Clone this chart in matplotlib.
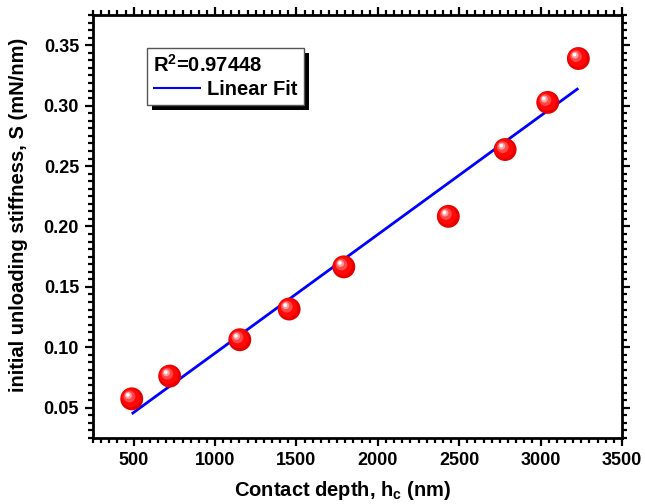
import numpy as np
import matplotlib
matplotlib.use("Agg")
import matplotlib.pyplot as plt
from matplotlib.ticker import MultipleLocator, AutoMinorLocator
from matplotlib.transforms import offset_copy
from matplotlib.patches import Rectangle

# ---- data ----
contact_depth = [488, 721, 1152, 1455, 1791, 2433, 2782, 3044, 3232]
stiffness = [0.0574, 0.0762, 0.1063, 0.1317, 0.1666, 0.2084, 0.2637, 0.3027, 0.3390]
r2_text = "R$^\\mathregular{2}$=0.97448"
fit_label = "Linear Fit"
x_label = "Contact depth, h$_\\mathregular{c}$ (nm)"
y_label = "initial unloading stiffness, S (mN/nm)"

plt.rcParams['font.family'] = ['Liberation Sans', 'DejaVu Sans']
plt.rcParams['font.weight'] = 'bold'
plt.rcParams['mathtext.fontset'] = 'custom'
plt.rcParams['mathtext.rm'] = 'Liberation Sans:bold'
plt.rcParams['mathtext.bf'] = 'Liberation Sans:bold'
plt.rcParams['mathtext.default'] = 'rm'

fig = plt.figure(figsize=(6.45, 5.04), dpi=100)
ax = fig.add_axes([0.1442, 0.131, 0.8201, 0.8392])

x = np.array(contact_depth, dtype=float)
y = np.array(stiffness, dtype=float)
slope, intercept = np.polyfit(x, y, 1)
xf = np.array([x.min(), x.max()])
ax.plot(xf, slope * xf + intercept, color='#0000ff', lw=2.0, zorder=2,
        solid_capstyle='butt', label=fit_label)

# shaded spheres
ax.scatter(x, y, s=16.5**2, color='#e60000', edgecolors='none', zorder=3)
layers = [(13.5, '#ff0808', -0.8, 0.8), (8.5, '#ff4848', -1.7, 1.7),
          (5, '#ffa0a0', -2.4, 2.4), (2.6, '#ffffff', -2.8, 2.8)]
for size, col, dx, dy in layers:
    tr = offset_copy(ax.transData, fig=fig, x=dx, y=dy, units='points')
    ax.scatter(x, y, s=size**2, color=col, edgecolors='none', zorder=4, transform=tr)

ax.set_xlim(250, 3500)
ax.set_ylim(0.025, 0.375)
ax.xaxis.set_major_locator(MultipleLocator(500))
ax.xaxis.set_minor_locator(MultipleLocator(50))
ax.yaxis.set_major_locator(MultipleLocator(0.05))
ax.yaxis.set_minor_locator(AutoMinorLocator(8))
ax.xaxis.set_major_formatter(matplotlib.ticker.FuncFormatter(lambda v, p: f"{v:.0f}"))
ax.yaxis.set_major_formatter(matplotlib.ticker.FuncFormatter(lambda v, p: f"{v:.2f}"))

for s in ax.spines.values():
    s.set_linewidth(2.0)
ax.tick_params(which='both', direction='out', top=True, right=True,
               width=1.6, labelsize=13, pad=4)
ax.tick_params(which='major', length=6)
ax.tick_params(which='minor', length=3.5)

ax.set_xlabel(x_label, fontsize=14.5, fontweight='bold')
ax.set_ylabel(y_label, fontsize=14.5, fontweight='bold')
ax.xaxis.set_label_coords(0.473, -0.098)
ax.yaxis.set_label_coords(-0.122, 0.527)

leg = ax.legend(loc='upper left', bbox_to_anchor=(0.102, 0.922), borderaxespad=0,
                title=r2_text, alignment='left', fancybox=False, framealpha=1,
                edgecolor='#555555', title_fontsize=14.5,
                handlelength=2.4, handletextpad=0.3, borderpad=0.3,
                labelspacing=0.2, prop={'weight': 'bold', 'size': 14.5})
leg.get_frame().set_linewidth(1.0)
leg.get_title().set_fontweight('bold')
for h in leg.get_lines():
    h.set_linewidth(1.5)
leg.set_zorder(10)

fig.canvas.draw()
bb = leg.get_window_extent().transformed(fig.transFigure.inverted())
dxf = 5 / fig.bbox.width
dyf = 5 / fig.bbox.height
shadow = Rectangle((bb.x0 + dxf, bb.y0 - dyf), bb.width, bb.height,
                   transform=fig.transFigure, facecolor='black', edgecolor='none',
                   zorder=9)
ax.add_artist(shadow)
shadow.set_clip_on(False)

fig.savefig("out.png", dpi=100)
